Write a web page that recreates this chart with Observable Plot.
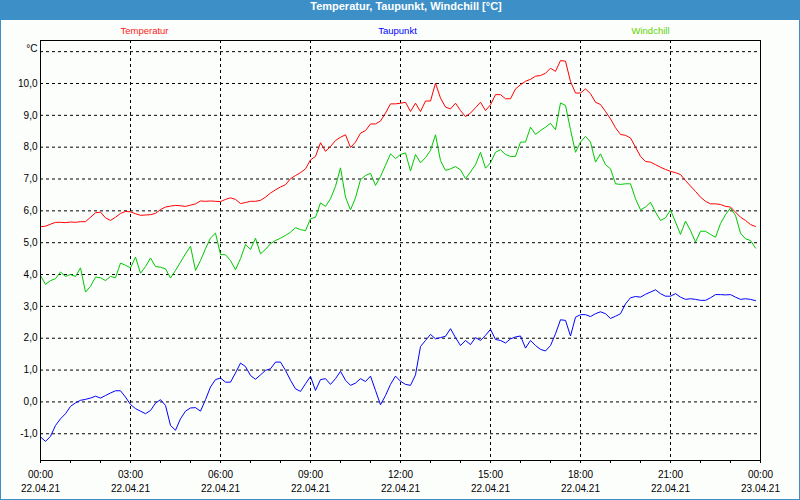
<!DOCTYPE html>
<html>
<head>
<meta charset="utf-8">
<script src="https://cdn.jsdelivr.net/npm/d3@7"></script>
<script src="https://cdn.jsdelivr.net/npm/@observablehq/plot@0.6"></script>
<style>
  html, body { margin: 0; padding: 0; background: #ffffff; }
  #wrap { position: relative; width: 800px; height: 500px; background: #3d90c7; overflow: hidden; }
  #title { position: absolute; left: 0; top: 0; width: 800px; height: 20px; line-height: 19px; box-sizing: border-box;
    padding-left: 12px; text-align: center; color: #ffffff; font: bold 11px "Liberation Sans", Arial, sans-serif; }
  #panel { position: absolute; left: 1px; top: 20px; width: 798px; height: 479px; background: #fcfefc; }
  #legend { position: absolute; left: 17px; top: 0; width: 759px; height: 20px; display: flex;
    font: 9.5px "Liberation Sans", Arial, sans-serif; line-height: 21px; }
  #legend span { flex: 1; text-align: center; }
  #chart svg { display: block; }
</style>
</head>
<body>
<div id="wrap">
  <div id="title"></div>
  <div id="panel">
    <div id="chart"></div>
    <div id="legend"></div>
  </div>
</div>
<script>
// ---- Data (10-minute readings, 22.04.21 00:00 – 23:50) ----
const titleText = "Temperatur, Taupunkt, Windchill [°C]";
const seriesNames = ["Temperatur", "Taupunkt", "Windchill"];
const seriesColors = ["#ff0000", "#0000ff", "#00c800"];
const legendColors = ["#ff1a1a", "#0000ff", "#5ed400"];
const unitLabel = "°C";

const temperatur = [
  5.50, 5.52, 5.58, 5.64, 5.64, 5.63, 5.65, 5.64, 5.66, 5.66, 5.80, 5.94, 5.96, 5.78, 5.70, 5.80, 5.92, 5.98, 5.97, 5.91,
  5.86, 5.87, 5.88, 5.92, 6.04, 6.12, 6.15, 6.17, 6.16, 6.14, 6.18, 6.22, 6.31, 6.30, 6.31, 6.30, 6.29, 6.36,
  6.41, 6.36, 6.23, 6.26, 6.30, 6.30, 6.33, 6.43, 6.56, 6.66, 6.75, 6.82, 7.01, 7.11, 7.20, 7.32, 7.60, 7.71, 8.14, 7.87,
  8.02, 8.21, 8.31, 8.39, 7.99, 8.16, 8.44, 8.52, 8.73, 8.73, 8.82, 9.07, 9.36, 9.36, 9.38, 9.41,
  9.12, 9.38, 9.12, 9.45, 9.45, 10.01, 9.54, 9.26, 9.20, 9.38, 9.15, 8.96, 9.07, 9.24, 9.41, 9.15, 9.33, 9.65, 9.65, 9.52,
  9.52, 9.83, 9.96, 10.07, 10.13, 10.23, 10.25, 10.32, 10.48, 10.38, 10.72, 10.70, 10.06, 9.70, 9.70, 9.83,
  9.68, 9.41, 9.34, 9.12, 8.89, 8.61, 8.40, 8.37, 8.29, 8.00, 7.71, 7.55, 7.53, 7.45, 7.37, 7.30, 7.24, 7.20, 7.14, 6.95,
  6.78, 6.61, 6.43, 6.30, 6.22, 6.22, 6.20, 6.14, 6.12, 5.96, 5.80, 5.70, 5.57, 5.51
];
const taupunkt = [
  -1.10, -1.24, -1.08, -0.74, -0.53, -0.37, -0.14, -0.03, 0.05, 0.08, 0.12, 0.18, 0.12, 0.20, 0.28, 0.35, 0.35, 0.15, -0.08, -0.21,
  -0.29, -0.37, -0.27, -0.04, 0.07, -0.11, -0.74, -0.89, -0.53, -0.29, -0.19, -0.18, -0.29, 0.07, 0.47, 0.70, 0.75, 0.62,
  0.62, 0.91, 1.22, 1.11, 0.83, 0.71, 0.85, 0.99, 1.04, 1.25, 1.25, 0.99, 0.68, 0.41, 0.33, 0.57, 0.80, 0.36, 0.70, 0.73,
  0.55, 0.73, 0.96, 0.68, 0.52, 0.59, 0.73, 0.64, 0.81, 0.36, -0.09, 0.20, 0.55, 0.81, 0.65, 0.55,
  0.52, 0.85, 1.74, 1.93, 2.12, 1.98, 2.02, 2.06, 2.30, 2.02, 1.77, 1.93, 1.80, 2.02, 1.93, 2.09, 2.28, 1.96, 1.93, 1.85,
  1.98, 2.04, 2.07, 1.69, 1.93, 1.77, 1.65, 1.60, 1.77, 2.14, 2.58, 2.56, 2.07, 2.66, 2.74, 2.74,
  2.68, 2.77, 2.83, 2.77, 2.62, 2.69, 2.77, 3.08, 3.27, 3.31, 3.29, 3.38, 3.45, 3.52, 3.40, 3.32, 3.32, 3.40, 3.29, 3.22,
  3.24, 3.22, 3.19, 3.19, 3.27, 3.37, 3.37, 3.36, 3.37, 3.29, 3.22, 3.24, 3.22, 3.18
];
const windchill = [
  3.97, 3.69, 3.81, 3.87, 4.08, 3.94, 4.00, 3.94, 4.21, 3.45, 3.63, 3.92, 3.90, 3.81, 3.94, 3.90, 4.36, 4.29, 4.21, 4.55,
  4.04, 4.25, 4.52, 4.25, 4.23, 4.18, 3.89, 4.13, 4.39, 4.65, 4.89, 4.13, 4.44, 4.81, 5.15, 5.30, 4.63, 4.62,
  4.44, 4.15, 4.50, 4.94, 4.79, 5.14, 4.65, 4.79, 4.97, 5.07, 5.14, 5.23, 5.33, 5.47, 5.41, 5.38, 5.75, 5.80, 6.25, 6.14,
  6.38, 6.77, 7.35, 6.43, 6.03, 6.41, 6.98, 7.11, 7.18, 6.80, 7.08, 7.43, 7.79, 7.64, 7.77, 7.82,
  7.25, 7.77, 7.51, 7.67, 7.90, 8.39, 7.58, 7.27, 7.32, 7.39, 7.29, 7.01, 7.22, 7.45, 7.84, 7.34, 7.51, 7.84, 7.92, 7.77,
  7.71, 7.71, 8.16, 8.16, 8.63, 8.40, 8.52, 8.63, 8.75, 8.55, 9.39, 9.31, 8.55, 7.84, 8.16, 8.34,
  8.16, 7.53, 7.79, 7.45, 7.32, 6.85, 6.83, 6.85, 6.85, 6.38, 6.03, 6.12, 6.27, 5.96, 5.70, 5.78, 6.03, 5.65, 5.26, 5.68,
  5.38, 5.02, 5.36, 5.36, 5.26, 5.17, 5.60, 5.88, 6.09, 5.86, 5.30, 5.12, 5.07, 4.83
];
const yTickValues = [-1, 0, 1, 2, 3, 4, 5, 6, 7, 8, 9, 10, 11];
const yLabelMax = 10;

// ---- Time axis ----
const startTime = new Date(Date.UTC(2021, 3, 22, 0, 0));
const endTime = new Date(Date.UTC(2021, 3, 23, 0, 0));
const times = d3.utcMinute.every(10).range(startTime, endTime);
const hourTicks = d3.utcHour.range(startTime, d3.utcHour.offset(endTime, 1));
const labelTicks = d3.utcHour.every(3).range(startTime, d3.utcHour.offset(endTime, 1));

const seriesValues = [temperatur, taupunkt, windchill];
const rows = seriesValues.flatMap((vals, s) =>
  vals.map((v, i) => ({ time: times[i], value: v, series: seriesNames[s] })));

document.getElementById("title").textContent = titleText;
const legend = document.getElementById("legend");
seriesNames.forEach((n, i) => {
  const s = document.createElement("span");
  s.textContent = n;
  s.style.color = legendColors[i];
  legend.appendChild(s);
});

const fmtTime = d3.utcFormat("%H:%M");
const fmtDate = d3.utcFormat("%d.%m.%y");
const fmtY = d => d > yLabelMax ? "" : d.toFixed(1).replace(".", ",");

const chart = Plot.plot({
  width: 798,
  height: 479,
  marginLeft: 39,
  marginRight: 39,
  marginTop: 20,
  marginBottom: 39,
  style: { fontFamily: "Liberation Sans, Arial, sans-serif", fontSize: "10px", background: "transparent", color: "#000" },
  x: { type: "utc", domain: [startTime, endTime] },
  y: { domain: [-1.84, 11.35] },
  color: { domain: seriesNames, range: seriesColors },
  marks: [
    Plot.gridY(yTickValues, { stroke: "#000", strokeOpacity: 1, strokeDasharray: "3,3" }),
    Plot.gridX(labelTicks, { stroke: "#000", strokeOpacity: 1, strokeDasharray: "3,3" }),
    Plot.lineY(rows, { x: "time", y: "value", z: "series", stroke: "series", strokeWidth: 1 }),
    Plot.frame({ stroke: "#000" }),
    Plot.axisY({ ticks: yTickValues, tickSize: 0, tickPadding: 3, tickFormat: fmtY, fontSize: 10, label: null }),
    Plot.text([unitLabel], { frameAnchor: "top-left", textAnchor: "end", dx: -3, dy: 4, fontSize: 10, fill: "#000" }),
    Plot.axisX({ ticks: hourTicks, tickSize: 3, tickPadding: 7, fontSize: 10, label: null,
      tickFormat: d => (d.getUTCHours() % 3 === 0 ? fmtTime(d) : "") }),
    Plot.axisX({ ticks: labelTicks, tickSize: 0, tickPadding: 24, fontSize: 10, label: null,
      tickFormat: d => fmtDate(d) })
  ]
});
document.getElementById("chart").appendChild(chart);
</script>
</body>
</html>
